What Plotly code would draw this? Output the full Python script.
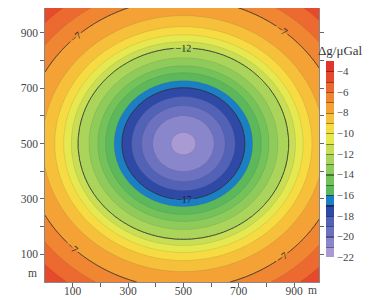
import numpy as np
import plotly.graph_objects as go

# ---- data ----
# anomaly centre (m) and horizontal elongation of the iso-lines
center_x_m = 500
center_y_m = 500
x_stretch = 1.1
# radial profile (vertical semi-axis, m) -> gravity anomaly (uGal)
ring_radius_m = [0, 40, 101, 137, 170, 202, 227, 256, 281, 310, 346,
                 368, 393, 422, 462, 523, 577, 630, 690, 770, 900]
ring_value_ugal = [-21.9, -21, -20, -19, -18, -17, -16, -15, -14, -13, -12,
                   -11, -10, -9, -8, -7, -6, -5, -4, -3, -2]
# axis ticks
axis_tickvals = [100, 200, 300, 400, 500, 600, 700, 800, 900]
axis_ticktext = ["100", "", "300", "", "500", "", "700", "", "900"]
cbar_tickvals = [-4, -6, -8, -10, -12, -14, -16, -18, -20, -22]
labeled_levels = [-17, -12, -7]
level_min, level_max = -22, -3

# colour of each 1-uGal band, from -22..-21 up to -4..-3
band_colors = ['#a99ad3', '#8a86cc', '#6d72c0', '#5262b6', '#2f4aa6',
               '#1b7fc6', '#5cb85a', '#74c25a', '#8fcb5a', '#aad55a', '#c8df55',
               '#e6e84f', '#f6dc42', '#f7c03a', '#f4a236', '#f08632', '#ec6a2f',
               '#e6492b', '#e2352a']

# ---- grid built from the read profile ----
xs = np.arange(0, 1000, 5)
ys = np.arange(0, 1000, 5)
X, Y = np.meshgrid(xs, ys)
R = np.sqrt(((X - center_x_m) / x_stretch) ** 2 + (Y - center_y_m) ** 2)
Z = np.interp(R, ring_radius_m, ring_value_ugal)

# contour fill colorscale: plotly samples band k at fraction k/n (k=0 below start)
fill_cols = [band_colors[0]] + band_colors + [band_colors[-1]]
n = len(fill_cols) - 1
fill_scale = [[i / n, c] for i, c in enumerate(fill_cols)]


def darker(hexc, f=0.6):
    r, g, b = (int(hexc[i:i + 2], 16) for i in (1, 3, 5))
    return "#%02x%02x%02x" % (int(r * f), int(g * f), int(b * f))


# stepped colorbar scale with thin dark separators at every integer level
nb = len(band_colors)
eps = 0.006
bar_scale = []
for i, c in enumerate(band_colors):
    lo, hi = i / nb, (i + 1) / nb
    bar_scale.append([lo, c])
    if i < nb - 1:
        bar_scale.append([hi - eps, c])
        bar_scale.append([hi - eps, darker(c)])
        bar_scale.append([hi, darker(c)])
    else:
        bar_scale.append([1.0, c])

serif = "Liberation Serif"
fig = go.Figure()
fig.add_trace(go.Contour(
    x=xs, y=ys, z=Z,
    colorscale=fill_scale,
    contours=dict(start=level_min, end=level_max, size=1, coloring="fill"),
    line=dict(width=0.4, color="rgba(60,60,60,0.3)"),
    hoverinfo="skip", showscale=False,
))
fig.add_trace(go.Contour(
    x=xs, y=ys, z=Z,
    contours=dict(start=labeled_levels[0], end=labeled_levels[-1], size=5,
                  coloring="none", showlabels=True,
                  labelfont=dict(family=serif, size=10, color="#222")),
    line=dict(width=0.9, color="#333"),
    showscale=False, hoverinfo="skip",
))
# colour-bar carrier (points lie outside the visible range)
fig.add_trace(go.Scatter(
    x=[-500, -500], y=[-500, -500], mode="markers", hoverinfo="skip",
    marker=dict(color=[level_min, level_max], cmin=level_min, cmax=level_max,
                colorscale=bar_scale, size=1, opacity=0, showscale=True,
                colorbar=dict(
                    x=1.0245, xanchor="left", xpad=0, ypad=0,
                    y=0.449, yanchor="middle",
                    thickness=8, len=196, lenmode="pixels",
                    outlinewidth=0,
                    tickvals=cbar_tickvals,
                    ticks="", ticklabelposition="outside",
                    tickfont=dict(family=serif, size=11, color="#444"),
                )),
))

axis_common = dict(
    range=[0, 990], tickvals=axis_tickvals, ticktext=axis_ticktext,
    ticks="outside", ticklen=4, tickwidth=0.8, tickcolor="#666",
    showline=True, linecolor="#888", linewidth=0.6, mirror="ticks",
    showgrid=False, zeroline=False,
    tickfont=dict(family=serif, size=11.5, color="#444"),
)
fig.update_xaxes(**axis_common, ticklabelstandoff=-6)
fig.update_yaxes(**axis_common)

fig.add_annotation(text="m", xref="x", yref="paper", x=968, y=-0.029,
                   showarrow=False, yanchor="middle",
                   font=dict(family=serif, size=11.5, color="#444"))
fig.add_annotation(text="m", xref="paper", yref="y", x=-0.044, y=31,
                   showarrow=False, xanchor="center",
                   font=dict(family=serif, size=11.5, color="#444"))
fig.add_annotation(text="Δg/μGal", xref="paper", yref="paper", x=1.077, y=0.844,
                   showarrow=False, xanchor="center", yanchor="middle",
                   font=dict(family=serif, size=13, color="#333"))

# the page body adds an 8 px offset, so the figure is sized to end at the window edge
fig.update_layout(
    width=373, height=292,
    margin=dict(l=37, r=62, t=0, b=18, autoexpand=False),
    paper_bgcolor="white", plot_bgcolor="white",
    showlegend=False,
)
fig.write_html("out.html")
